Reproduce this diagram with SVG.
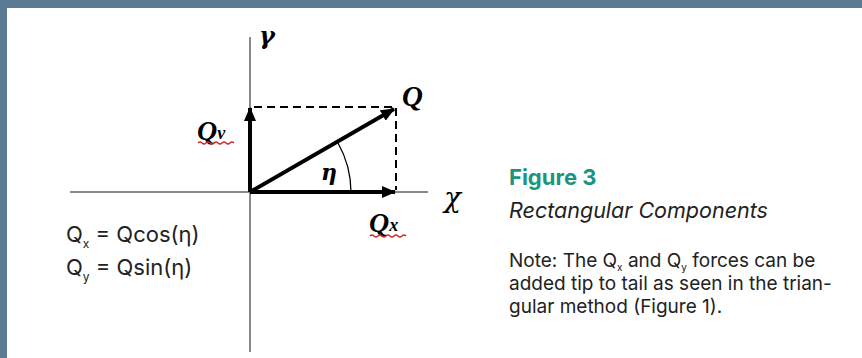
<svg xmlns="http://www.w3.org/2000/svg" width="862" height="358" viewBox="0 0 862 358">
<style>
.axis{stroke:#8a8a8a;stroke-width:2;fill:none}
.vec{stroke:#000;stroke-width:4;fill:none}
.dash{stroke:#000;stroke-width:2;stroke-dasharray:8 5;fill:none}
.math{font-family:"Liberation Serif",serif;font-style:italic;font-weight:bold;fill:#000}
.greek{font-family:"DejaVu Serif",serif;font-style:italic;fill:#000}
.sans{font-family:Inter,Roboto,"Liberation Sans",sans-serif;fill:#222}
.squig{stroke:#d0262a;stroke-width:1.3;fill:none}
</style>
<defs>
<marker id="ah" markerWidth="14" markerHeight="12" refX="13" refY="6" orient="auto" markerUnits="userSpaceOnUse">
<path d="M0,0 L14,6 L0,12 Z" fill="#000"/>
</marker>
</defs>
<rect x="0" y="0" width="862" height="358" fill="#fff"/>
<g id="frame" fill="#5b7b94">
<rect x="0" y="0" width="862" height="8"/>
<rect x="0" y="0" width="7" height="358"/>
</g>
<g id="axes">
<line class="axis" x1="250" y1="37" x2="250" y2="352"/>
<line class="axis" x1="70" y1="192" x2="428" y2="192"/>
</g>
<g id="connectors">
<line class="dash" x1="254" y1="107" x2="393" y2="107"/>
<line class="dash" x1="396" y1="108" x2="396" y2="190"/>
<line class="vec" x1="250" y1="192" x2="250" y2="108" marker-end="url(#ah)"/>
<line class="vec" x1="250" y1="192" x2="395" y2="192" marker-end="url(#ah)"/>
<line class="vec" x1="250" y1="192" x2="394" y2="109" marker-end="url(#ah)"/>
<path d="M351,192 A101,101 0 0 0 338,143" stroke="#000" stroke-width="1.3" fill="none"/>
</g>
<g id="label-gamma"><text class="greek" x="259" y="44" font-size="24" font-weight="bold">γ</text></g>
<g id="label-Q"><text class="math" x="402" y="106" font-size="29">Q</text></g>
<g id="label-Qy">
<text class="math" x="197" y="140" font-size="28">Q<tspan font-size="18" dy="-1">v</tspan></text>
<path class="squig" d="M198,143 q2,-2 4,0 t4,0 t4,0 t4,0 t4,0 t4,0 t4,0 t4,0 t4,0"/>
</g>
<g id="label-eta"><text class="greek" x="321" y="180" font-size="22" font-weight="bold">η</text></g>
<g id="label-Qx">
<text class="math" x="369" y="232" font-size="28">Q<tspan font-size="18" dy="-1">x</tspan></text>
<path class="squig" d="M370,236 q2,-2 4,0 t4,0 t4,0 t4,0 t4,0 t4,0 t4,0 t4,0 t4,0"/>
</g>
<g id="label-chi"><text class="greek" x="444" y="207" font-size="28">χ</text></g>
<g id="equations" class="sans" font-size="22">
<text x="66" y="242">Q<tspan font-size="12" dy="6">x</tspan><tspan dy="-6"> = Qcos(η)</tspan></text>
<text x="66" y="275">Q<tspan font-size="12" dy="6">y</tspan><tspan dy="-6"> = Qsin(η)</tspan></text>
</g>
<g id="caption">
<text x="509" y="185" font-family="Inter,Roboto,'Liberation Sans',sans-serif" font-weight="bold" font-size="22" fill="#1a9580">Figure 3</text>
<text class="sans" x="509" y="218" font-size="21.5" font-style="italic">Rectangular Components</text>
<g class="sans" font-size="19">
<text x="509" y="267">Note: The Q<tspan font-size="10" dy="4">x</tspan><tspan dy="-4"> and Q</tspan><tspan font-size="10" dy="4">y</tspan><tspan dy="-4"> forces can be</tspan></text>
<text x="509" y="290">added tip to tail as seen in the trian-</text>
<text x="509" y="313">gular method (Figure 1).</text>
</g>
</g>
</svg>
